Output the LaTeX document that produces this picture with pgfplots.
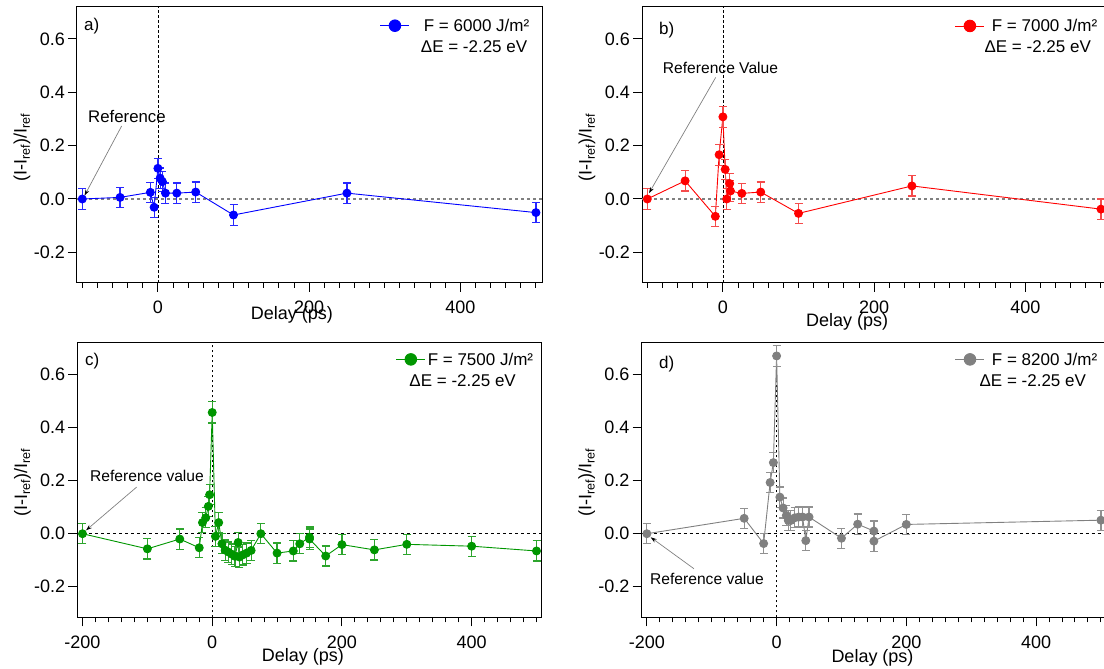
\documentclass[border=0pt]{standalone}
\usepackage{pgfplots}
\pgfplotsset{compat=1.18}
\usepackage{pgfplotstable}
\usepackage{fontspec}
\setmainfont{Liberation Sans}
\usetikzlibrary{arrows.meta}

\definecolor{cblue}{RGB}{0,0,255}
\definecolor{cblueE}{RGB}{40,40,255}
\definecolor{cred}{RGB}{255,0,0}
\definecolor{credE}{RGB}{245,75,75}
\definecolor{cgreen}{RGB}{0,150,0}
\definecolor{cgreenE}{RGB}{45,165,45}
\definecolor{cgray}{RGB}{128,128,128}
\definecolor{cgrayE}{RGB}{145,145,145}

\pgfplotstableread{
x y e
-100 0 0.038
-50 0.006 0.038
-10 0.025 0.038
-5 -0.031 0.038
0 0.115 0.038
3 0.078 0.038
6 0.065 0.038
10 0.022 0.038
25 0.022 0.038
50 0.026 0.038
100 -0.060 0.038
250 0.022 0.038
500 -0.051 0.038
}\dataA

\pgfplotstableread{
x y e
-100 0 0.038
-50 0.068 0.038
-10 -0.065 0.038
-5 0.166 0.039
0 0.308 0.039
3 0.111 0.038
5 0.000 0.038
9 0.058 0.038
10 0.030 0.038
25 0.021 0.038
50 0.026 0.038
100 -0.054 0.038
250 0.049 0.038
500 -0.038 0.038
}\dataB

\pgfplotstableread{
x y e
-200 0 0.038
-100 -0.057 0.038
-50 -0.020 0.038
-20 -0.053 0.038
-15 0.042 0.038
-10 0.060 0.038
-6 0.103 0.038
-4 0.147 0.038
0 0.457 0.040
5 -0.010 0.038
10 0.042 0.038
15 -0.038 0.038
20 -0.062 0.038
25 -0.069 0.038
30 -0.077 0.038
35 -0.085 0.038
40 -0.033 0.038
42 -0.088 0.038
47 -0.080 0.038
53 -0.073 0.038
60 -0.063 0.038
75 0.000 0.038
100 -0.073 0.038
125 -0.065 0.038
135 -0.038 0.038
150 -0.013 0.038
150 -0.020 0.038
175 -0.084 0.038
200 -0.041 0.038
250 -0.061 0.038
300 -0.040 0.038
400 -0.047 0.038
500 -0.065 0.038
}\dataC

\pgfplotstableread{
x y e
-200 0 0.038
-50 0.058 0.038
-20 -0.037 0.038
-10 0.193 0.038
-5 0.268 0.038
0 0.670 0.039
5 0.138 0.038
10 0.097 0.038
15 0.069 0.038
18 0.050 0.038
22 0.050 0.038
28 0.060 0.038
34 0.063 0.038
40 0.063 0.038
45 -0.026 0.038
50 0.063 0.038
100 -0.017 0.038
125 0.036 0.038
150 0.010 0.038
150 -0.028 0.038
200 0.035 0.038
500 0.051 0.038
}\dataD

\pgfplotsset{
  panel/.style={
    scale only axis,
    axis line style={line width=1pt},
    tick style={line width=1pt, black},
    tick align=outside,
    tick pos=left,
    major tick length=9pt, minor tick length=5pt,
    ymin=-0.315, ymax=0.72,
    ytick={-0.2,0,0.2,0.4,0.6},
    yticklabel style={/pgf/number format/.cd, fixed, fixed zerofill, precision=1, assume math mode=true},
    xticklabel style={/pgf/number format/assume math mode=true},
    tick label style={font=\fontsize{18}{20}\selectfont, inner sep=0pt},
    xticklabel shift=9pt, yticklabel shift=3pt,
    label style={font=\fontsize{18}{20}\selectfont},
    ylabel={(I-I\textsubscript{ref})/I\textsubscript{ref}},
    ylabel style={at={(axis description cs:-0.1183,0.49)}, anchor=center},
    xlabel={Delay (ps)},
    legend style={draw=none, fill=none, inner sep=0pt, outer sep=0pt, anchor=north west,
      font=\fontsize{17}{20}\selectfont, row sep=9pt,
      nodes={inner sep=0pt, text height=12pt, text depth=0pt}},
    legend cell align=left,
    legend image code/.code={\draw[mark repeat=2,mark phase=2,##1,mark size=5.8pt] plot coordinates {(0pt,0pt) (14.5pt,0pt) (29pt,0pt)};},
  },
  top/.style={xmin=-107, xmax=508, xtick={0,200,400}, minor xtick={-100,-80,...,500}, width=465pt, height=276pt},
  bot/.style={xmin=-208, xmax=508, xtick={-200,0,200,400}, minor xtick={-200,-180,...,500}, width=464.4pt, height=274.6pt},
  series/.style n args={2}{color=#1, line width=0.9pt, mark=*, mark size=4pt, mark options={solid, fill=#1, draw=#1},
    error bars/.cd, y dir=both, y explicit,
    error bar style={line width=1.2pt, color=#2, solid},
    error mark options={rotate=90, mark size=4pt, line width=1.2pt, color=#2}},
}

\begin{document}
\begin{tikzpicture}
\useasboundingbox (0,0) rectangle (1104pt,669pt);

% ---------- a ----------
\begin{axis}[panel, top, at={(77pt,386pt)}, anchor=south west,
  xlabel style={at={(axis description cs:0.462,0)}, anchor=center, yshift=-31.7pt},
  legend style={at={(rel axis cs:0.6516,0.954)}, /tikz/every odd column/.append style={column sep=14pt}}]
\draw[black, line width=0.8pt, dash pattern=on 2.5pt off 2.5pt] (axis cs:0,-0.315) -- (axis cs:0,0.72);
\draw[cgray, line width=1.5pt, dash pattern=on 3pt off 3pt] (axis cs:-107,0) -- (axis cs:508,0);
\addplot[series={cblue}{cblueE}] table[x=x, y=y, y error=e] {\dataA};
\addlegendentry{F = 6000 J/m²}
\addlegendimage{empty legend}
\addlegendentry{\hspace*{-3pt}ΔE = -2.25 eV}
\node[font=\fontsize{16.8}{18}\selectfont] at (axis cs:-40.9,0.311) {Reference};
\draw[cgray, line width=0.7pt, -{Stealth[length=6pt,width=4pt,black]}] (axis cs:-47.9,0.274) -- (axis cs:-97,0.013);
\node[font=\fontsize{17}{18}\selectfont] at (rel axis cs:0.0316,0.929) {a)};
\end{axis}

% ---------- b ----------
\begin{axis}[panel, top, at={(642pt,386pt)}, anchor=south west,
  xlabel style={at={(axis description cs:0.441,0)}, anchor=center, yshift=-39pt},
  legend style={at={(rel axis cs:0.673,0.953)}, /tikz/every odd column/.append style={column sep=7pt}}]
\draw[black, line width=0.8pt, dash pattern=on 2.5pt off 2.5pt] (axis cs:0,-0.315) -- (axis cs:0,0.72);
\draw[cgray, line width=1.5pt, dash pattern=on 3pt off 3pt] (axis cs:-107,0) -- (axis cs:508,0);
\addplot[series={cred}{credE}] table[x=x, y=y, y error=e] {\dataB};
\addlegendentry{F = 7000 J/m²}
\addlegendimage{empty legend}
\addlegendentry{\hspace*{-7.3pt}ΔE = -2.25 eV}
\node[font=\fontsize{15.6}{18}\selectfont] at (axis cs:-3.2,0.490) {Reference Value};
\draw[cgray, line width=0.7pt, -{Stealth[length=6pt,width=4pt,black]}] (axis cs:-9.5,0.456) -- (axis cs:-97.7,0.022);
\node[font=\fontsize{17}{18}\selectfont] at (rel axis cs:0.053,0.917) {b)};
\end{axis}

% ---------- c ----------
\begin{axis}[panel, bot, at={(77.3pt,51.7pt)}, anchor=south west,
  xlabel style={at={(axis description cs:0.486,0)}, anchor=center, yshift=-40pt},
  legend style={at={(rel axis cs:0.686,0.961)}, /tikz/every odd column/.append style={column sep=2pt}}]
\draw[black, line width=0.8pt, dash pattern=on 2.5pt off 2.5pt] (axis cs:0,-0.315) -- (axis cs:0,0.72);
\draw[black, line width=0.8pt, dash pattern=on 3pt off 3pt] (axis cs:-208,0) -- (axis cs:508,0);
\addplot[series={cgreen}{cgreenE}] table[x=x, y=y, y error=e] {\dataC};
\addlegendentry{F = 7500 J/m²}
\addlegendimage{empty legend}
\addlegendentry{\hspace*{-18.3pt}ΔE = -2.25 eV}
\node[font=\fontsize{15.6}{18}\selectfont] at (axis cs:-100.5,0.218) {Reference value};
\draw[cgray, line width=0.7pt, -{Stealth[length=6pt,width=4pt,black]}] (axis cs:-116.4,0.176) -- (axis cs:-194.6,0.0127);
\node[font=\fontsize{17}{18}\selectfont] at (rel axis cs:0.032,0.934) {c)};
\end{axis}

% ---------- d ----------
\begin{axis}[panel, bot, at={(641.7pt,51.7pt)}, anchor=south west,
  xlabel style={at={(axis description cs:0.497,0)}, anchor=center, yshift=-40.5pt},
  legend style={at={(rel axis cs:0.6747,0.961)}, /tikz/every odd column/.append style={column sep=7pt}}]
\draw[black, line width=0.8pt, dash pattern=on 2.5pt off 2.5pt] (axis cs:0,-0.315) -- (axis cs:0,0.72);
\draw[black, line width=0.8pt, dash pattern=on 3pt off 3pt] (axis cs:-208,0) -- (axis cs:508,0);
\addplot[series={cgray}{cgrayE}] table[x=x, y=y, y error=e] {\dataD};
\addlegendentry{F = 8200 J/m²}
\addlegendimage{empty legend}
\addlegendentry{\hspace*{-12.3pt}ΔE = -2.25 eV}
\node[font=\fontsize{15.6}{18}\selectfont] at (axis cs:-107.3,-0.170) {Reference value};
\draw[cgray, line width=0.7pt, -{Stealth[length=6pt,width=4pt,black]}] (axis cs:-127.4,-0.132) -- (axis cs:-194.1,-0.0136);
\node[font=\fontsize{17}{18}\selectfont] at (rel axis cs:0.054,0.922) {d)};
\end{axis}
\end{tikzpicture}
\end{document}
